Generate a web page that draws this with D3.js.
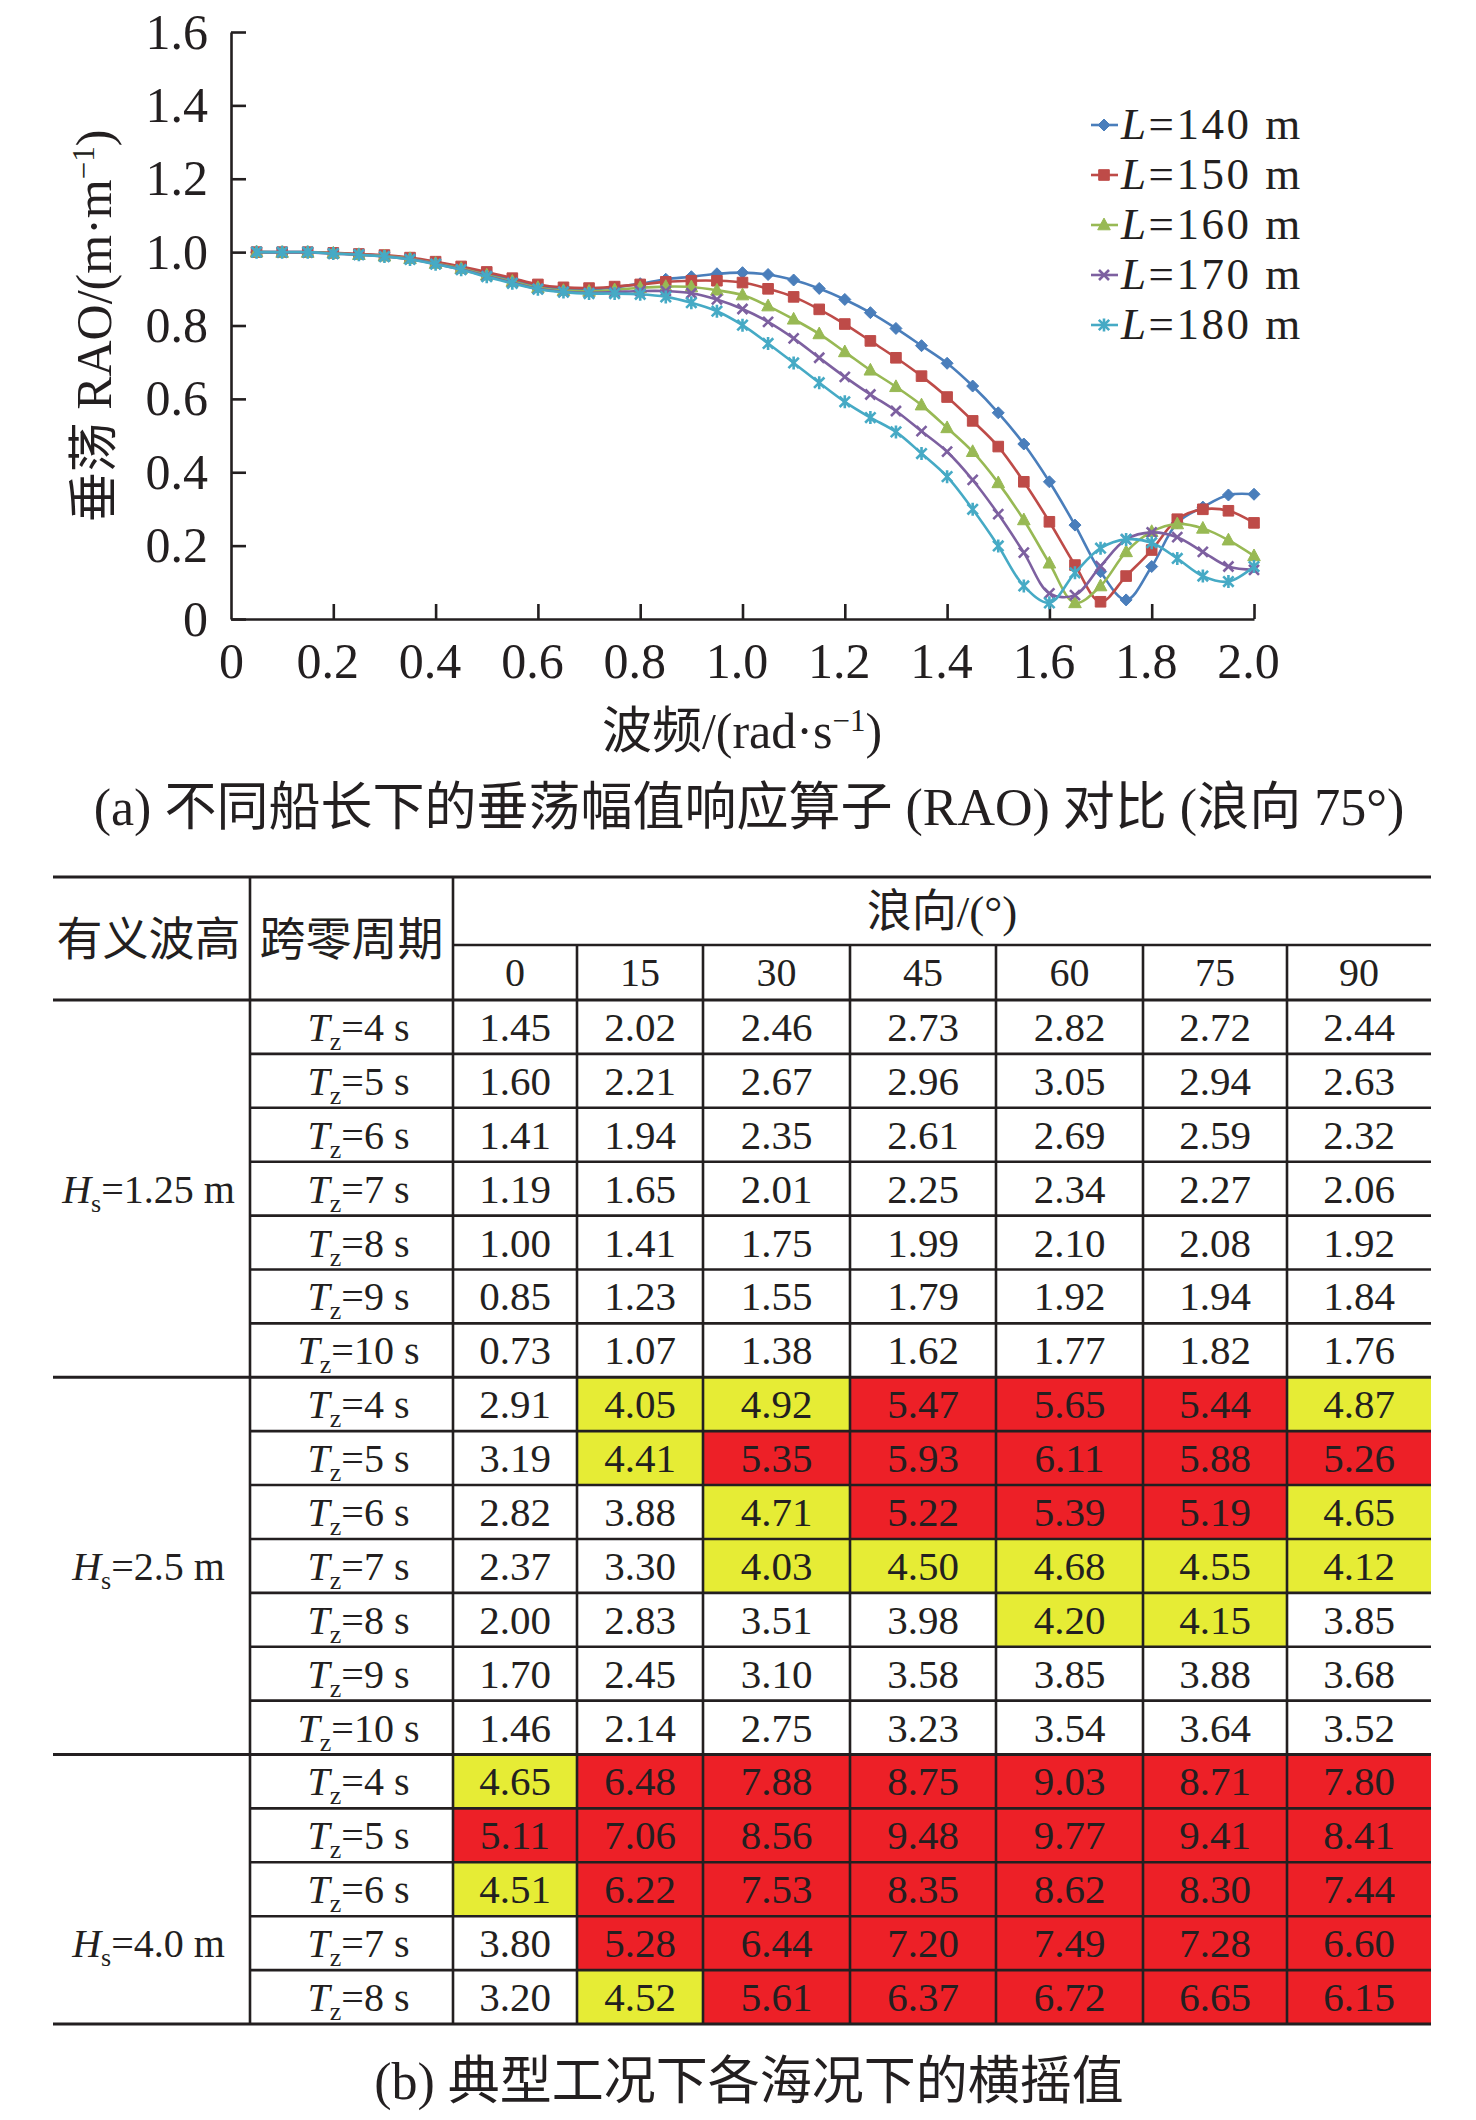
<!DOCTYPE html>
<html><head><meta charset="utf-8">
<script src="https://cdn.jsdelivr.net/npm/d3@7"></script>
<style>
html,body{margin:0;padding:0;background:#fff;}
svg{display:block;}
text{font-family:"Liberation Serif","Noto Sans CJK SC",serif;fill:#231f20;}
</style></head><body>
<svg id="c" width="1476" height="2120"></svg>
<script>
// ---------------- DATA: chart (a) ----------------
const freq = [0.05,0.10,0.15,0.20,0.25,0.30,0.35,0.40,0.45,0.50,0.55,0.60,0.65,0.70,0.75,0.80,0.85,0.90,0.95,1.00,
              1.05,1.10,1.15,1.20,1.25,1.30,1.35,1.40,1.45,1.50,1.55,1.60,1.65,1.70,1.75,1.80,1.85,1.90,1.95,2.00];
const rao140 = [1.000,1.000,1.000,0.997,0.994,0.990,0.983,0.972,0.958,0.941,0.924,0.908,0.901,0.899,0.904,0.914,0.926,0.933,0.941,0.944,
                0.939,0.924,0.901,0.871,0.835,0.792,0.745,0.697,0.635,0.562,0.477,0.374,0.256,0.129,0.052,0.143,0.262,0.305,0.338,0.340];
const rao150 = [1.000,1.000,1.000,0.998,0.995,0.992,0.985,0.974,0.961,0.946,0.929,0.912,0.904,0.902,0.906,0.912,0.919,0.922,0.922,0.917,
                0.900,0.878,0.844,0.804,0.758,0.712,0.662,0.605,0.540,0.470,0.374,0.265,0.147,0.047,0.117,0.188,0.272,0.299,0.295,0.262];
const rao160 = [1.000,0.999,0.999,0.997,0.993,0.989,0.982,0.969,0.955,0.937,0.920,0.903,0.895,0.893,0.897,0.903,0.906,0.905,0.896,0.883,
                0.853,0.817,0.777,0.728,0.678,0.633,0.583,0.521,0.456,0.371,0.270,0.152,0.044,0.090,0.183,0.238,0.259,0.247,0.215,0.172];
const rao170 = [1.000,0.999,0.999,0.996,0.993,0.988,0.981,0.968,0.953,0.935,0.917,0.900,0.892,0.889,0.891,0.894,0.894,0.888,0.871,0.845,
                0.810,0.765,0.712,0.660,0.612,0.567,0.512,0.456,0.379,0.286,0.181,0.070,0.065,0.144,0.217,0.236,0.223,0.183,0.143,0.134];
const rao180 = [1.000,1.000,1.000,0.996,0.993,0.988,0.980,0.967,0.952,0.933,0.915,0.899,0.891,0.887,0.887,0.885,0.878,0.862,0.839,0.801,
                0.751,0.698,0.644,0.592,0.549,0.510,0.451,0.388,0.299,0.199,0.090,0.044,0.126,0.193,0.217,0.208,0.165,0.117,0.102,0.143];
const seriesNames = ["140","150","160","170","180"];
const xTicks = [0,0.2,0.4,0.6,0.8,1.0,1.2,1.4,1.6,1.8,2.0];
const yTicks = [0,0.2,0.4,0.6,0.8,1.0,1.2,1.4,1.6];

// ---------------- DATA: table (b) ----------------
const waveDirs = ["0","15","30","45","60","75","90"];
const hsValues = ["1.25","2.5","4.0"];
const tzGroup1 = [4,5,6,7,8,9,10];
const tzGroup2 = [4,5,6,7,8,9,10];
const tzGroup3 = [4,5,6,7,8];
const rollHs125 = [
  [1.45,2.02,2.46,2.73,2.82,2.72,2.44],
  [1.60,2.21,2.67,2.96,3.05,2.94,2.63],
  [1.41,1.94,2.35,2.61,2.69,2.59,2.32],
  [1.19,1.65,2.01,2.25,2.34,2.27,2.06],
  [1.00,1.41,1.75,1.99,2.10,2.08,1.92],
  [0.85,1.23,1.55,1.79,1.92,1.94,1.84],
  [0.73,1.07,1.38,1.62,1.77,1.82,1.76]];
const rollHs25 = [
  [2.91,4.05,4.92,5.47,5.65,5.44,4.87],
  [3.19,4.41,5.35,5.93,6.11,5.88,5.26],
  [2.82,3.88,4.71,5.22,5.39,5.19,4.65],
  [2.37,3.30,4.03,4.50,4.68,4.55,4.12],
  [2.00,2.83,3.51,3.98,4.20,4.15,3.85],
  [1.70,2.45,3.10,3.58,3.85,3.88,3.68],
  [1.46,2.14,2.75,3.23,3.54,3.64,3.52]];
const rollHs40 = [
  [4.65,6.48,7.88,8.75,9.03,8.71,7.80],
  [5.11,7.06,8.56,9.48,9.77,9.41,8.41],
  [4.51,6.22,7.53,8.35,8.62,8.30,7.44],
  [3.80,5.28,6.44,7.20,7.49,7.28,6.60],
  [3.20,4.52,5.61,6.37,6.72,6.65,6.15]];
const warnLevels = [4, 5];   // >=4 yellow, >=5 red

// ---------------- STYLE / LAYOUT ----------------
const INK = "#231f20";
const colors = ["#4a7ebb","#be4b48","#98b954","#7d60a0","#46aac5"];
const svg = d3.select("#c");

// ---------------- chart (a) ----------------
const x = d3.scaleLinear().domain([0,2]).range([231,1254]);
const y = d3.scaleLinear().domain([0,1.6]).range([619,32]);
const fmt1 = v => v === 0 ? "0" : d3.format(".1f")(v);

const gA = svg.append("g");
const yAxis = gA.append("g").attr("transform","translate(231,0)")
  .call(d3.axisLeft(y).tickValues(yTicks).tickSize(-15).tickSizeOuter(0).tickPadding(23).tickFormat(fmt1));
const xAxis = gA.append("g").attr("transform","translate(0,619)")
  .call(d3.axisBottom(x).tickValues(xTicks).tickSize(-15).tickSizeOuter(0).tickPadding(23).tickFormat(fmt1));
[yAxis,xAxis].forEach(a=>{
  a.select(".domain").attr("stroke",INK).attr("stroke-width",2.6);
  a.selectAll(".tick line").attr("stroke",INK).attr("stroke-width",2.6);
  a.selectAll(".tick text").attr("fill",INK).style("font-size","50px")
   .style("font-family",'"Liberation Serif",serif');
});
xAxis.selectAll(".tick").filter(d=>d===0).select("line").remove();
xAxis.selectAll(".tick").filter(d=>d!==0).select("text").attr("dx",-6);

// marker symbol types
const symDiamond = {draw(c,r){c.moveTo(0,-r);c.lineTo(r,0);c.lineTo(0,r);c.lineTo(-r,0);c.closePath();}};
const symSquare = {draw(c,r){c.rect(-r,-r,2*r,2*r);}};
const symTri = {draw(c,r){c.moveTo(0,-r*1.15);c.lineTo(r*1.05,r*0.8);c.lineTo(-r*1.05,r*0.8);c.closePath();}};
const symX = {draw(c,r){c.moveTo(-r,-r);c.lineTo(r,r);c.moveTo(-r,r);c.lineTo(r,-r);}};
const symStar = {draw(c,r){c.moveTo(-r,-r);c.lineTo(r,r);c.moveTo(-r,r);c.lineTo(r,-r);c.moveTo(0,-r*1.25);c.lineTo(0,r*1.25);}};
const markers = [
  {type:symDiamond,size:6,filled:true},
  {type:symSquare,size:5.3,filled:true},
  {type:symTri,size:6,filled:true},
  {type:symX,size:5,filled:false},
  {type:symStar,size:5.2,filled:false}];

const allSeries = [rao140,rao150,rao160,rao170,rao180];
const line = d3.line().x((d,i)=>x(freq[i])).y(d=>y(d)).curve(d3.curveCatmullRom.alpha(0.5));

function drawMarker(sel, k){
  const m = markers[k];
  sel.attr("d", d3.symbol().type(m.type).size(m.size)())
     .attr("fill", m.filled ? colors[k] : "none")
     .attr("stroke", colors[k])
     .attr("stroke-width", m.filled ? 1 : 2.6);
}

allSeries.forEach((vals,k)=>{
  const g = gA.append("g");
  g.append("path").datum(vals).attr("d",line).attr("fill","none")
    .attr("stroke",colors[k]).attr("stroke-width",2.6);
  g.selectAll("path.m").data(vals).join("path").attr("class","m")
    .attr("transform",(d,i)=>`translate(${x(freq[i])},${y(d)})`)
    .call(s=>drawMarker(s,k));
});

// legend
const leg = gA.append("g");
const legY = d3.scalePoint().domain(seriesNames).range([125,325]);
seriesNames.forEach((nm,k)=>{
  const cy = legY(nm);
  leg.append("line").attr("x1",1091).attr("x2",1118).attr("y1",cy).attr("y2",cy)
    .attr("stroke",colors[k]).attr("stroke-width",2.6);
  leg.append("path").attr("transform",`translate(1104,${cy})`).call(s=>drawMarker(s,k));
  const t = leg.append("text").attr("x",1121).attr("y",cy+14)
    .style("font-size","45px").style("letter-spacing","2.5px");
  t.append("tspan").style("font-style","italic").text("L");
  t.append("tspan").text("=" + nm + " m");
});

// axis titles
const yl = gA.append("text").attr("transform","translate(93,326) rotate(-90)")
  .attr("text-anchor","middle").attr("dy","0.36em").style("font-size","50px");
yl.append("tspan").text("垂荡 RAO/(m·m");
yl.append("tspan").attr("dy","-17").style("font-size","31px").text("−1");
yl.append("tspan").attr("dy","17").text(")");

const xl = gA.append("text").attr("x",742).attr("y",748)
  .attr("text-anchor","middle").style("font-size","50px");
xl.append("tspan").text("波频/(rad·s");
xl.append("tspan").attr("dy","-17").style("font-size","31px").text("−1");
xl.append("tspan").attr("dy","17").text(")");

gA.append("text").attr("x",749).attr("y",825).attr("text-anchor","middle")
  .style("font-size","52px").text("(a) 不同船长下的垂荡幅值响应算子 (RAO) 对比 (浪向 75°)");

// ---------------- table (b) ----------------
const colWidths = [197,203,124,126,147,146,147,144,144];
const colEdges = [53];
colWidths.forEach(w=>colEdges.push(colEdges[colEdges.length-1]+w));
const groups = [
  {hs:hsValues[0], tz:tzGroup1, vals:rollHs125},
  {hs:hsValues[1], tz:tzGroup2, vals:rollHs25},
  {hs:hsValues[2], tz:tzGroup3, vals:rollHs40}];
const rows = [];
groups.forEach((g,gi)=>g.tz.forEach((tz,i)=>rows.push({gi, i, tz, vals:g.vals[i], hs:g.hs, last:i===g.tz.length-1})));
const rowY = d3.scaleBand().domain(d3.range(rows.length)).range([1000,2024]);
const rh = rowY.bandwidth();
const fmt2 = d3.format(".2f");
const cellFill = v => v >= warnLevels[1] ? "#ed2027" : v >= warnLevels[0] ? "#e6ec35" : "none";

const gT = svg.append("g");
// cell backgrounds
rows.forEach((r,ri)=>{
  r.vals.forEach((v,j)=>{
    const f = cellFill(v);
    if (f !== "none") gT.append("rect").attr("x",colEdges[j+2]).attr("y",rowY(ri))
      .attr("width",colWidths[j+2]).attr("height",rh).attr("fill",f);
  });
});
// grid lines
const L = (x1,y1,x2,y2,w)=>gT.append("line").attr("x1",x1).attr("y1",y1).attr("x2",x2).attr("y2",y2)
  .attr("stroke",INK).attr("stroke-width",w||2.6);
const xR = colEdges[colEdges.length-1];
L(53,877,xR,877,3);
L(colEdges[2],945,xR,945);
L(53,1000,xR,1000,3);
rows.forEach((r,ri)=>{
  const yb = rowY(ri)+rh;
  if (r.last) L(53,yb,xR,yb,3); else L(colEdges[1],yb,xR,yb);
});
L(colEdges[1],877,colEdges[1],2024);
L(colEdges[2],877,colEdges[2],2024);
for (let j=3;j<colEdges.length-1;j++) L(colEdges[j],945,colEdges[j],2024);

// header text
const cx = j => (colEdges[j]+colEdges[j+1])/2;
gT.append("text").attr("x",cx(0)-3).attr("y",938+17).attr("text-anchor","middle").style("font-size","46px").text("有义波高");
gT.append("text").attr("x",cx(1)).attr("y",938+17).attr("text-anchor","middle").style("font-size","46px").text("跨零周期");
gT.append("text").attr("x",(colEdges[2]+xR)/2).attr("y",911+16).attr("text-anchor","middle").style("font-size","45px").text("浪向/(°)");
waveDirs.forEach((d,j)=>gT.append("text").attr("x",cx(j+2)).attr("y",972+14).attr("text-anchor","middle")
  .style("font-size","40px").text(d));

// body text
rows.forEach((r,ri)=>{
  const yc = rowY(ri)+rh/2;
  const t = gT.append("text").attr("x",cx(1)+7).attr("y",yc+14).attr("text-anchor","middle").style("font-size","40px");
  t.append("tspan").style("font-style","italic").text("T");
  t.append("tspan").attr("dy",9).style("font-size","26px").text("z");
  t.append("tspan").attr("dy",-9).text("=" + r.tz + " s");
  r.vals.forEach((v,j)=>{
    gT.append("text").attr("x",cx(j+2)).attr("y",yc+14).attr("text-anchor","middle")
      .style("font-size","41px").attr("fill", v >= warnLevels[1] ? "#ffffff" : INK).text(fmt2(v));
  });
  if (r.tz === 7) {
    const h = gT.append("text").attr("x",cx(0)-3).attr("y",yc+14).attr("text-anchor","middle").style("font-size","40px");
    h.append("tspan").style("font-style","italic").text("H");
    h.append("tspan").attr("dy",9).style("font-size","26px").text("s");
    h.append("tspan").attr("dy",-9).text("=" + r.hs + " m");
  }
});

gT.append("text").attr("x",749).attr("y",2099).attr("text-anchor","middle")
  .style("font-size","52px").text("(b) 典型工况下各海况下的横摇值");
</script>
</body></html>
